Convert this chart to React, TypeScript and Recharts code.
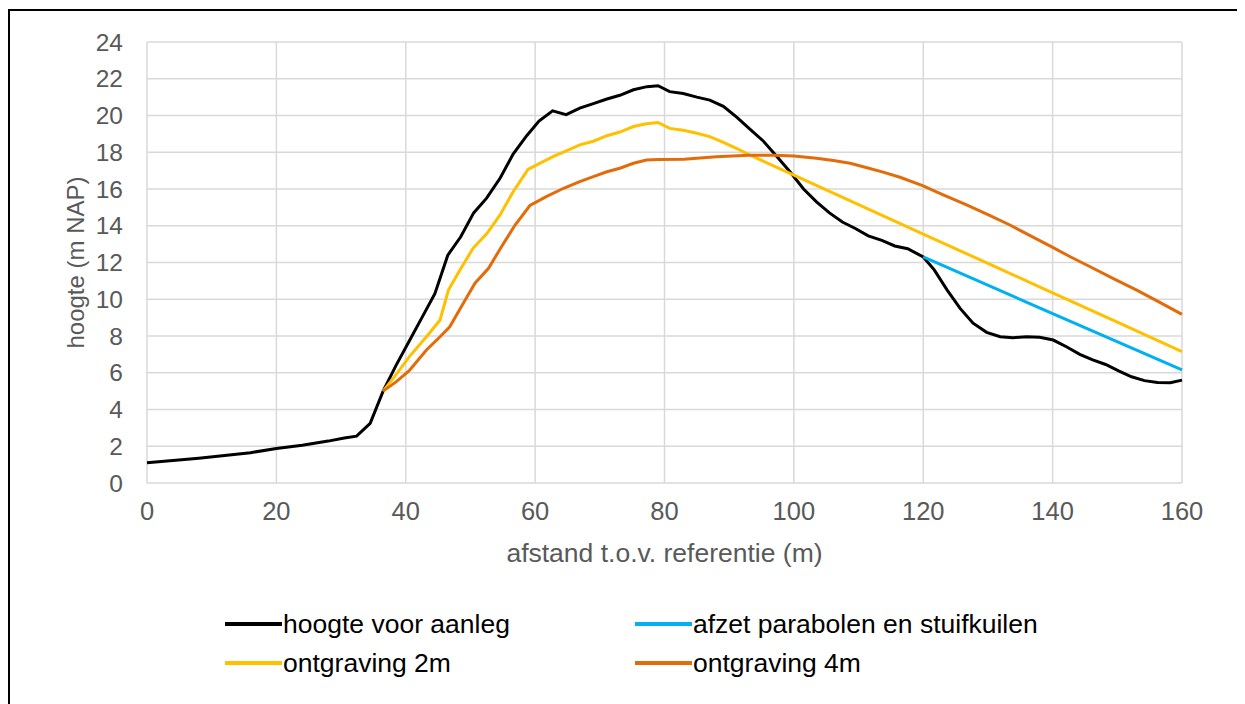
import React from "react";
import {
  LineChart,
  Line,
  XAxis,
  YAxis,
  CartesianGrid,
  Legend,
} from "recharts";

const xTicks = [0, 20, 40, 60, 80, 100, 120, 140, 160];
const yTicks = [0, 2, 4, 6, 8, 10, 12, 14, 16, 18, 20, 22, 24];

// hoogte voor aanleg (x, y)
const hoogteVoorAanleg = [
  [0, 1.1], [4, 1.22], [8, 1.35], [12, 1.5], [16, 1.65], [20, 1.88],
  [24, 2.05], [28, 2.28], [30.5, 2.45], [32.4, 2.55], [34.5, 3.25],
  [36.5, 5.0], [38.5, 6.4], [40.5, 7.7], [42.5, 9.0], [44.5, 10.3],
  [46.5, 12.4], [48.5, 13.4], [50.5, 14.7], [52.5, 15.5], [54.6, 16.6],
  [56.6, 17.9], [58.7, 18.9], [60.6, 19.7], [62.7, 20.25], [64.8, 20.05],
  [66.9, 20.4], [69, 20.65], [71.1, 20.9], [73.1, 21.1], [75.2, 21.4],
  [77.3, 21.57], [79, 21.62], [80.8, 21.3], [82.9, 21.2], [85, 21.0],
  [87, 20.84], [89.1, 20.5], [91.2, 19.9], [93.2, 19.26], [95.3, 18.6],
  [97.3, 17.8], [99.4, 16.94], [101.5, 16.0], [103.5, 15.3], [105.5, 14.7],
  [107.5, 14.2], [109.5, 13.85], [111.5, 13.45], [113.6, 13.2], [115.6, 12.9],
  [117.6, 12.75], [120, 12.3], [121.7, 11.6], [123.7, 10.5], [125.7, 9.5],
  [127.7, 8.7], [129.8, 8.2], [131.9, 7.96], [133.9, 7.91], [136, 7.96],
  [138, 7.93], [140.1, 7.78], [142.2, 7.4], [144.2, 7.0], [146.2, 6.7],
  [148.2, 6.45], [150.2, 6.1], [152.2, 5.78], [154.2, 5.57], [156.2, 5.47],
  [158.2, 5.46], [160, 5.6],
];

// afzet parabolen en stuifkuilen
const afzetParabolen = [
  [120, 12.3], [140, 9.22], [160, 6.15],
];

// ontgraving 2m
const ontgraving2m = [
  [36.5, 5.0], [38.5, 5.9], [40.5, 6.85], [43.2, 7.96], [45.3, 8.87],
  [46.6, 10.5], [48.4, 11.6], [50.4, 12.77], [52.6, 13.6], [54.6, 14.6],
  [56.6, 15.85], [58.9, 17.07], [61, 17.45], [63, 17.8], [65, 18.1],
  [66.9, 18.4], [69, 18.6], [71.1, 18.9], [73.1, 19.1], [75.2, 19.4],
  [77.2, 19.55], [79, 19.62], [80.8, 19.3], [82.9, 19.2], [85, 19.03],
  [87, 18.85], [89.1, 18.54], [91.2, 18.2], [93.2, 17.85], [100, 16.75],
  [110, 15.15], [120, 13.55], [130, 11.95], [140, 10.35], [150, 8.75],
  [160, 7.15],
];

// ontgraving 4m
const ontgraving4m = [
  [36.5, 5.0], [38.5, 5.5], [40.5, 6.1], [43.2, 7.24], [45.3, 7.96],
  [46.8, 8.5], [48.9, 9.78], [50.7, 10.87], [52.8, 11.68], [54.8, 12.86],
  [56.9, 14.04], [59.2, 15.1], [61.8, 15.6], [64.4, 16.04], [66.9, 16.4],
  [69, 16.67], [71.1, 16.94], [73.1, 17.13], [75.2, 17.4], [77.2, 17.58],
  [79, 17.6], [83, 17.62], [88, 17.76], [93, 17.83], [97, 17.84],
  [100, 17.8], [103.5, 17.67], [106.1, 17.55], [108.7, 17.4], [111.3, 17.16],
  [113.8, 16.92], [116.4, 16.64], [119.8, 16.2], [123, 15.7], [126.7, 15.13],
  [130, 14.6], [133.4, 14.04], [136.6, 13.45], [139.8, 12.86], [142.8, 12.3],
  [145.8, 11.77], [149.4, 11.12], [153, 10.5], [156.5, 9.84], [160, 9.18],
];

const toPoints = (arr: number[][]) => arr.map(([x, y]) => ({ x, y }));

const series = [
  { name: "hoogte voor aanleg", color: "#000000", data: toPoints(hoogteVoorAanleg) },
  { name: "afzet parabolen en stuifkuilen", color: "#00b0f0", data: toPoints(afzetParabolen) },
  { name: "ontgraving 2m", color: "#ffc000", data: toPoints(ontgraving2m) },
  { name: "ontgraving 4m", color: "#e36c0a", data: toPoints(ontgraving4m) },
];

const FONT = "'Liberation Sans', Arial, sans-serif";
const GREY = "#595959";

const YTitle = (props: any) => {
  const vb = props.viewBox;
  const cx = vb.x + 65;
  const cy = vb.y + vb.height / 2;
  return (
    <text
      x={cx}
      y={cy}
      transform={`rotate(-90 ${cx} ${cy})`}
      textAnchor="middle"
      dominantBaseline="central"
      fill={GREY}
      fontSize={24}
      fontFamily={FONT}
    >
      hoogte (m NAP)
    </text>
  );
};

const XTitle = (props: any) => {
  const vb = props.viewBox;
  return (
    <text
      x={vb.x + vb.width / 2}
      y={vb.y + 70}
      textAnchor="middle"
      dominantBaseline="central"
      fill={GREY}
      fontSize={26.5}
      fontFamily={FONT}
    >
      afstand t.o.v. referentie (m)
    </text>
  );
};

// legend drawn in the order of the series (2 columns)
const LegendBox = () => (
  <div
    style={{
      display: "grid",
      gridTemplateColumns: "410px 410px",
      rowGap: 11,
      marginLeft: 215,
      fontFamily: FONT,
      fontSize: 26.5,
      color: "#000",
    }}
  >
    {series.map((s) => (
      <div key={s.name} style={{ display: "flex", alignItems: "center", height: 28 }}>
        <svg width={57} height={6} style={{ marginRight: 1 }}>
          <line x1={0} y1={3} x2={57} y2={3} stroke={s.color} strokeWidth={4} />
        </svg>
        <span>{s.name}</span>
      </div>
    ))}
  </div>
);

export default function App() {
  return (
    <div
      style={{
        position: "relative",
        top: 1,
        width: 1235,
        height: 700,
        borderLeft: "2px solid #000",
        borderTop: "2px solid #000",
        fontFamily: FONT,
      }}
    >
      <style>{"html,body{overflow:hidden}"}</style>
      <LineChart
        width={1235}
        height={690}
        margin={{ top: 31, right: 63, left: 0, bottom: 158 }}
      >
        <CartesianGrid stroke="#d9d9d9" strokeWidth={1.5} />
        <XAxis
          type="number"
          dataKey="x"
          domain={[0, 160]}
          ticks={xTicks}
          height={60}
          axisLine={false}
          tickLine={false}
          tickSize={0}
          tickMargin={19}
          tick={{ fill: GREY, fontSize: 25.5, fontFamily: FONT }}
          label={{ content: XTitle }}
        />
        <YAxis
          type="number"
          domain={[0, 24]}
          ticks={yTicks}
          width={137}
          axisLine={false}
          tickLine={false}
          tickSize={0}
          tickMargin={24}
          interval={0}
          tick={{ fill: GREY, fontSize: 24.5, fontFamily: FONT }}
          label={{ content: YTitle }}
        />
        <Legend
          layout="vertical"
          align="center"
          verticalAlign="middle"
          wrapperStyle={{ top: 599, left: 0, width: 1235 }}
          content={LegendBox}
        />
        {series.map((s) => (
          <Line
            key={s.name}
            name={s.name}
            data={s.data}
            dataKey="y"
            type="linear"
            stroke={s.color}
            strokeWidth={3}
            dot={false}
            activeDot={false}
            isAnimationActive={false}
          />
        ))}
      </LineChart>
    </div>
  );
}
